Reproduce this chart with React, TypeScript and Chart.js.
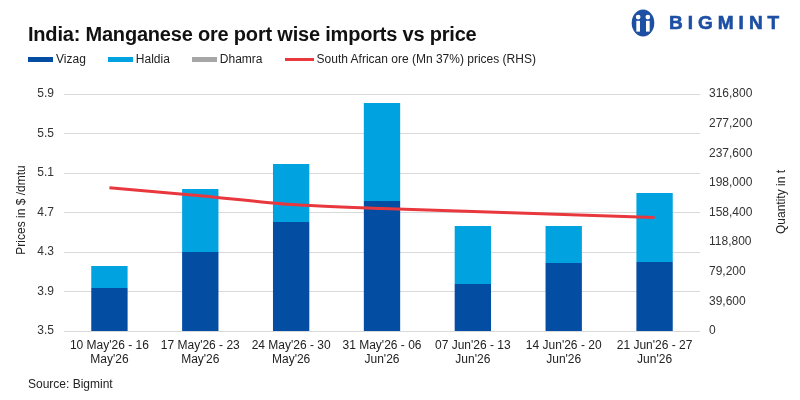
import React, { useEffect, useRef } from "react";
import { Chart, registerables } from "chart.js";

Chart.register(...registerables);

const categories: string[][] = [
  ["10 May'26 - 16", "May'26"],
  ["17 May'26 - 23", "May'26"],
  ["24 May'26 - 30", "May'26"],
  ["31 May'26 - 06", "Jun'26"],
  ["07 Jun'26 - 13", "Jun'26"],
  ["14 Jun'26 - 20", "Jun'26"],
  ["21 Jun'26 - 27", "Jun'26"],
];
const vizag = [57500, 105600, 145700, 173800, 62800, 90900, 92200];
const haldia = [29400, 84200, 77500, 131000, 77600, 49500, 92300];
const dhamra = [0, 0, 0, 0, 0, 0, 0];
const price = [4.95, 4.87, 4.78, 4.74, 4.71, 4.68, 4.65];

const leftTicks = { min: 3.5, max: 5.9, step: 0.4 };
const rightTicks = { min: 0, max: 316800, step: 39600 };

const C_VIZAG = "#034ea2";
const C_HALDIA = "#00a3e0";
const C_DHAMRA = "#a6a6a6";
const C_PRICE = "#e8383d";
const FONT = "'Liberation Sans', Arial, sans-serif";

const axisTitles = {
  id: "axisTitles",
  afterDraw(chart: any) {
    const ctx = chart.ctx;
    ctx.save();
    ctx.fillStyle = "#222";
    ctx.font = "12px " + FONT;
    ctx.textAlign = "center";
    ctx.textBaseline = "middle";
    ctx.translate(22, 210);
    ctx.rotate(-Math.PI / 2);
    ctx.fillText("Prices in $ /dmtu", 0, 0);
    ctx.restore();
    ctx.save();
    ctx.fillStyle = "#222";
    ctx.font = "12px " + FONT;
    ctx.textAlign = "center";
    ctx.textBaseline = "middle";
    ctx.translate(782, 202);
    ctx.rotate(-Math.PI / 2);
    ctx.fillText("Quantity in t", 0, 0);
    ctx.restore();
  },
};

function Logo() {
  return (
    <div style={{ position: "absolute", left: 631, top: 9, display: "flex", alignItems: "center", height: 28 }}>
      <svg width="24" height="28" viewBox="0 0 22 26">
        <ellipse cx="11" cy="13" rx="10.5" ry="12.5" fill="#1d4fa3" />
        <circle cx="6.5" cy="7.5" r="2.2" fill="#fff" />
        <circle cx="15.5" cy="7.5" r="2.2" fill="#fff" />
        <rect x="4.8" y="11" width="3.4" height="10" fill="#fff" />
        <rect x="13.8" y="11" width="3.4" height="10" fill="#fff" />
        <rect x="9.6" y="9" width="2.8" height="14" fill="#1d4fa3" />
      </svg>
      <span
        style={{
          marginLeft: 14,
          fontFamily: FONT,
          fontWeight: 700,
          fontSize: 19,
          letterSpacing: 5,
          color: "#1d4fa3",
          lineHeight: "28px",
          WebkitTextStroke: "0.6px #1d4fa3",
        }}
      >
        BIGMINT
      </span>
    </div>
  );
}

function LegendItem({ color, label, line }: { color: string; label: string; line?: boolean }) {
  return (
    <div style={{ display: "flex", alignItems: "center", marginRight: 22 }}>
      <div
        style={{
          width: line ? 29 : 25,
          height: line ? 3 : 5,
          background: color,
          marginRight: 3,
        }}
      />
      <span style={{ fontSize: 12, color: "#222", fontFamily: FONT }}>{label}</span>
    </div>
  );
}

export default function App() {
  const ref = useRef<HTMLCanvasElement | null>(null);

  useEffect(() => {
    if (!ref.current) return;
    const chart = new Chart(ref.current, {
      type: "bar",
      data: {
        labels: categories,
        datasets: [
          {
            type: "line",
            label: "South African ore (Mn 37%) prices (RHS)",
            data: price,
            yAxisID: "y",
            borderColor: C_PRICE,
            backgroundColor: C_PRICE,
            borderWidth: 3,
            pointRadius: 0,
            tension: 0.25,
            order: 0,
          } as any,
          {
            type: "bar",
            label: "Vizag",
            data: vizag,
            yAxisID: "y1",
            backgroundColor: C_VIZAG,
            barPercentage: 0.4,
            categoryPercentage: 1,
            order: 1,
          },
          {
            type: "bar",
            label: "Haldia",
            data: haldia,
            yAxisID: "y1",
            backgroundColor: C_HALDIA,
            barPercentage: 0.4,
            categoryPercentage: 1,
            order: 1,
          },
          {
            type: "bar",
            label: "Dhamra",
            data: dhamra,
            yAxisID: "y1",
            backgroundColor: C_DHAMRA,
            barPercentage: 0.4,
            categoryPercentage: 1,
            order: 1,
          },
        ],
      },
      options: {
        responsive: false,
        animation: false,
        layout: { padding: { top: 94, left: 0, right: 0, bottom: 0 } },
        plugins: { legend: { display: false }, tooltip: { enabled: false } },
        scales: {
          x: {
            stacked: true,
            grid: { display: false, drawTicks: false },
            border: { display: false },
            ticks: {
              padding: 7,
              color: "#222",
              font: { size: 12, family: FONT },
              maxRotation: 0,
              autoSkip: false,
            },
            afterFit: (s: any) => {
              s.height = 69;
            },
          },
          y: {
            position: "left",
            min: leftTicks.min,
            max: leftTicks.max,
            grid: { color: "#d9d9d9", lineWidth: 1, drawTicks: false },
            border: { display: false },
            ticks: {
              stepSize: leftTicks.step,
              padding: 10,
              color: "#333",
              font: { size: 12, family: FONT },
              callback: (v: any) => Number(v).toFixed(1),
            },
            afterFit: (s: any) => {
              s.width = 64;
            },
          },
          y1: {
            position: "right",
            stacked: true,
            min: rightTicks.min,
            max: rightTicks.max,
            grid: { display: false, drawTicks: false },
            border: { display: false },
            ticks: {
              stepSize: rightTicks.step,
              padding: 9,
              color: "#333",
              font: { size: 12, family: FONT },
              callback: (v: any) => Number(v).toLocaleString("en-US"),
            },
            afterFit: (s: any) => {
              s.width = 100;
            },
          },
        },
      },
      plugins: [axisTitles],
    });
    return () => chart.destroy();
  }, []);

  return (
    <div
      style={{
        position: "fixed",
        left: 0,
        top: 0,
        width: 800,
        height: 400,
        background: "#fff",
        fontFamily: FONT,
      }}
    >
      <canvas ref={ref} width={800} height={400} style={{ position: "absolute", left: 0, top: 0 }} />
      <div
        style={{
          position: "absolute",
          left: 28,
          top: 23,
          fontSize: 20,
          fontWeight: 700,
          color: "#111",
          whiteSpace: "nowrap",
          letterSpacing: -0.2,
        }}
      >
        India: Manganese ore port wise imports vs price
      </div>
      <div style={{ position: "absolute", left: 28, top: 52, display: "flex" }}>
        <LegendItem color={C_VIZAG} label="Vizag" />
        <LegendItem color={C_HALDIA} label="Haldia" />
        <LegendItem color={C_DHAMRA} label="Dhamra" />
        <LegendItem color={C_PRICE} label="South African ore (Mn 37%) prices (RHS)" line />
      </div>
      <Logo />
      <div style={{ position: "absolute", left: 28, top: 377, fontSize: 12, color: "#222" }}>
        Source: Bigmint
      </div>
    </div>
  );
}
